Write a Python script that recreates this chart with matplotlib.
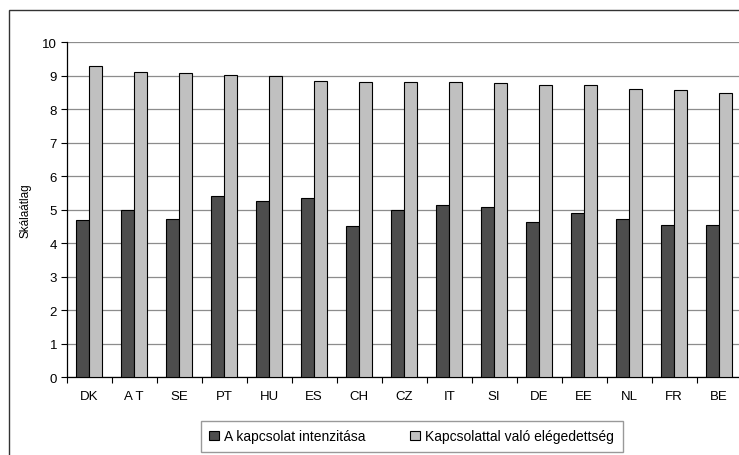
import numpy as np
import matplotlib
matplotlib.use("Agg")
import matplotlib.pyplot as plt
from matplotlib.patches import Rectangle

plt.rcParams["font.family"] = ["Liberation Sans", "DejaVu Sans"]
plt.rcParams["font.size"] = 9.5

countries = ["DK", "A T", "SE", "PT", "HU", "ES", "CH", "CZ", "IT", "SI", "DE", "EE", "NL", "FR", "BE"]
intensity = [4.68, 4.98, 4.73, 5.41, 5.24, 5.35, 4.50, 4.98, 5.13, 5.08, 4.64, 4.90, 4.73, 4.55, 4.55]
satisfaction = [9.28, 9.11, 9.08, 9.03, 9.00, 8.85, 8.82, 8.82, 8.82, 8.78, 8.73, 8.73, 8.61, 8.58, 8.49]
series_names = ["A kapcsolat intenzitása", "Kapcsolattal való elégedettség"]

fig = plt.figure(figsize=(7.39, 4.56), dpi=100)
# plot area runs slightly past the right edge of the picture
ax = fig.add_axes([0.0903, 0.171, 0.9134, 0.7346])

x = np.arange(len(countries))
w = 0.29
ax.bar(x - w / 2, intensity, w, color="#4d4d4d", edgecolor="black", linewidth=0.8,
       label=series_names[0], zorder=3)
ax.bar(x + w / 2, satisfaction, w, color="#c0c0c0", edgecolor="black", linewidth=0.8,
       label=series_names[1], zorder=3)

ax.set_xlim(-0.5, len(countries) - 0.5)
ax.set_ylim(0, 10)
ax.set_yticks(range(0, 11))
ax.yaxis.grid(True, color="#8c8c8c", linewidth=0.9, zorder=0)
ax.set_axisbelow(True)

ax.set_xticks(x)
ax.set_xticklabels(countries)
ax.set_xticks(np.arange(-0.5, len(countries)), minor=True)
ax.tick_params(axis="x", which="major", length=0, pad=9)
ax.tick_params(axis="x", which="minor", length=4, width=0.8, direction="out")
ax.tick_params(axis="y", length=4, width=0.8, direction="out", pad=3)

for side in ["top", "right"]:
    ax.spines[side].set_visible(False)
for side in ["left", "bottom"]:
    ax.spines[side].set_linewidth(0.9)

ax.set_ylabel("Skálaátlag", labelpad=8, fontsize=8.5)

fig.legend(loc="center", bbox_to_anchor=(0.557, 0.041), ncol=2, frameon=True,
           fancybox=False, edgecolor="#808080", handlelength=0.7, handleheight=0.7,
           handletextpad=0.4, columnspacing=3.2, fontsize=10, borderpad=0.6)

# chart border: only left and top edges fall inside the picture
fig.patches.append(Rectangle((9 / 739, -0.1), 1.2, 1.1 - 11 / 456, transform=fig.transFigure,
                             fill=False, edgecolor="#333333", linewidth=1.0))

fig.savefig("out.png", dpi=100)
